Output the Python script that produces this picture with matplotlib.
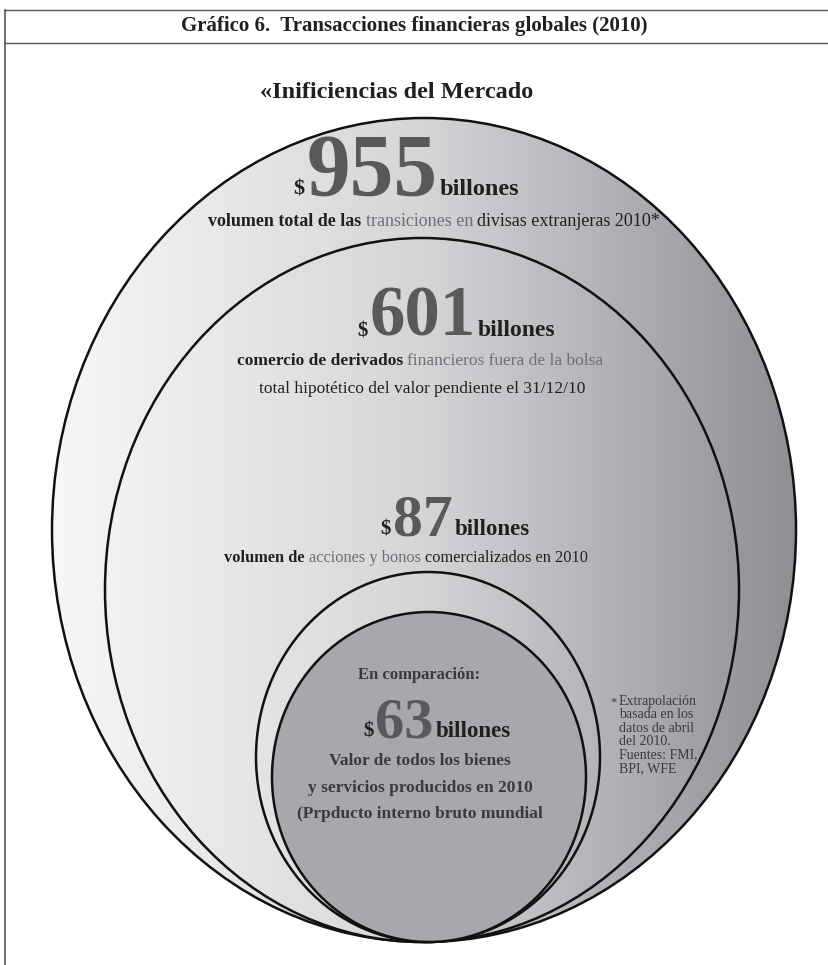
import matplotlib
matplotlib.use("Agg")
import matplotlib.pyplot as plt
import numpy as np
from matplotlib.colors import LinearSegmentedColormap
from matplotlib.patches import Ellipse

W, H = 829, 965
SERIF = ["Liberation Serif", "DejaVu Serif"]

DARK = "#231f20"
GRAY = "#6d6e71"
NUM = "#58595b"
INNER_TXT = "#3a3a3c"

# ---- data ----
title = "Gráfico 6.  Transacciones financieras globales (2010)"
subtitle = "«Inificiencias del Mercado"
amounts = ["955", "601", "87", "63"]
unit = "billones"
desc_955 = [[("volumen total de las", "bold"), ("transiciones en", "gray"),
             ("divisas extranjeras 2010*", "regular")]]
desc_601 = [[("comercio de derivados", "bold"), ("financieros fuera de la bolsa", "gray")],
            [("total hipotético del valor pendiente el 31/12/10", "regular")]]
desc_87 = [[("volumen de", "bold"), ("acciones y bonos", "gray"),
            ("comercializados en 2010", "regular")]]
intro_63 = "En comparación:"
desc_63 = ["Valor de todos los bienes", "y servicios producidos en 2010",
           "(Prpducto interno bruto mundial"]
footnote = ["Extrapolación", "basada en los", "datos de abril", "del 2010.",
            "Fuentes: FMI,", "BPI, WFE"]

# ---- layout (pixels) ----
# (cx, cy, width, height) for each bubble, outer to inner
bubbles = [(424, 530, 744, 824), (422, 590, 634, 704),
           (428, 757, 344, 370), (429, 777, 314, 330)]

STYLES = {
    "bold": dict(family=SERIF, fontweight="bold", color=DARK),
    "gray": dict(family=SERIF, color=GRAY),
    "regular": dict(family=SERIF, color=DARK),
    "num": dict(family=SERIF, fontweight="bold", color=NUM),
    "inner": dict(family=SERIF, fontweight="bold", color=INNER_TXT),
}

fig = plt.figure(figsize=(W / 100, H / 100), dpi=100)
ax = fig.add_axes([0, 0, 1, 1])
ax.set_xlim(0, W)
ax.set_ylim(H, 0)
ax.axis("off")
renderer = fig.canvas.get_renderer()


def text_width(s, fs, st):
    t = ax.text(0, 0, s, fontsize=fs, **STYLES[st])
    w = t.get_window_extent(renderer).width
    t.remove()
    return w


def rich_line(cx, y, parts, fs=None, gap=None):
    # parts: (text, style) or (text, style, size); centred on cx, shared baseline
    parts = [p if len(p) == 3 else (p[0], p[1], fs) for p in parts]
    widths = [text_width(s, f, st) for s, st, f in parts]
    if gap is None:
        gap = text_width("n n", parts[0][2], "regular") - text_width("nn", parts[0][2], "regular")
    total = sum(widths) + gap * (len(parts) - 1)
    x = cx - total / 2
    for (s, st, f), w in zip(parts, widths):
        ax.text(x, y, s, fontsize=f, ha="left", va="baseline", zorder=20, **STYLES[st])
        x += w + gap


def amount_line(cx, y, value, big, small=15, unit_fs=16.5):
    rich_line(cx, y, [("$", "bold", small), (value, "num", big), (unit, "bold", unit_fs)], gap=2)


# frame
ax.plot([5, W], [10, 10], color="#555", lw=1)
ax.plot([5, W], [43, 43], color="#555", lw=1)
ax.plot([5, 5], [10, H], color="#555", lw=1.2)

ax.text(414, 26, title, fontsize=15, fontweight="bold", ha="center", va="center",
        family=SERIF, color=DARK)
ax.text(397, 92, subtitle, fontsize=17.5, fontweight="bold", ha="center", va="center",
        family=SERIF, color=DARK)

# bubbles with horizontal gradient
grad = LinearSegmentedColormap.from_list("g", ["#f7f7f7", "#d4d5d7", "#8e8f93"])
x0 = bubbles[0][0] - bubbles[0][2] / 2
x1 = bubbles[0][0] + bubbles[0][2] / 2
ramp = np.linspace(0, 1, 256).reshape(1, -1)
for i, (cx, cy, w, h) in enumerate(bubbles):
    e = Ellipse((cx, cy), w, h, facecolor="none", edgecolor="none")
    ax.add_patch(e)
    if i < 3:
        im = ax.imshow(ramp, cmap=grad, extent=(x0, x1, cy + h / 2, cy - h / 2),
                       aspect="auto", interpolation="bilinear", zorder=1 + i)
    else:
        im = ax.imshow(np.zeros((1, 1)), cmap=LinearSegmentedColormap.from_list(
            "f", ["#a7a8ab", "#a7a8ab"]), extent=(cx - w / 2, cx + w / 2, cy + h / 2, cy - h / 2),
            aspect="auto", zorder=1 + i)
    im.set_clip_path(e)
    ax.add_patch(Ellipse((cx, cy), w, h, facecolor="none", edgecolor="#111",
                         lw=1.8, zorder=1.5 + i))

ax.set_xlim(0, W)
ax.set_ylim(H, 0)

# texts
amount_line(406, 195, amounts[0], 63, small=16, unit_fs=17.5)
rich_line(434, 226, desc_955[0], fs=13)

amount_line(456, 336, amounts[1], 51, unit_fs=17)
rich_line(420, 365, desc_601[0], fs=12.5)
rich_line(422, 393, desc_601[1], fs=12.5)

amount_line(455, 535, amounts[2], 43)
rich_line(406, 562, desc_87[0], fs=11.8)

ax.text(419, 679, intro_63, fontsize=12, ha="center", va="baseline", zorder=20,
        **STYLES["inner"])
amount_line(437, 737, amounts[3], 42)
for k, line in enumerate(desc_63):
    ax.text(420, 765 + k * 26.5, line, fontsize=12.5, ha="center", va="baseline",
            zorder=20, **STYLES["inner"])

ax.text(610, 705, "*", fontsize=9, ha="left", va="baseline", family=SERIF,
        color=INNER_TXT, zorder=20)
for k, line in enumerate(footnote):
    ax.text(619, 705 + k * 13.4, line, fontsize=10, ha="left", va="baseline",
            family=SERIF, color=INNER_TXT, zorder=20)

fig.savefig("out.png", dpi=100)
